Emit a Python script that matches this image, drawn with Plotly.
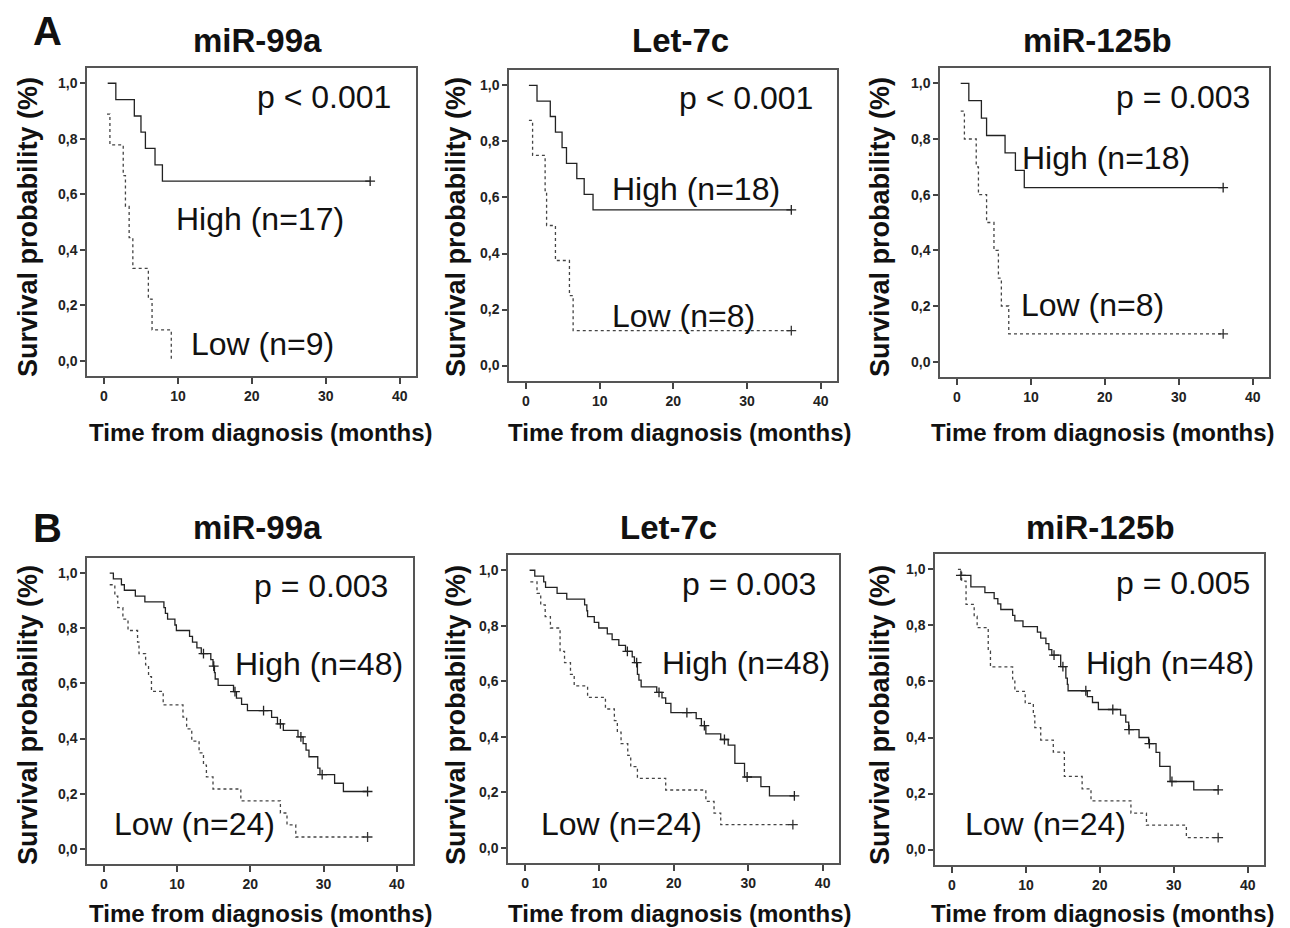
import plotly.graph_objects as go

# ---------------- data ----------------
# Panel A
A1_high_t = [0.5, 1.6, 4.1, 5.0, 5.6, 6.9, 7.9, 36.0]
A1_high_s = [1.0, 0.941, 0.882, 0.824, 0.765, 0.706, 0.647, 0.647]
A1_high_cens = [36.0]
A1_low_t = [0.4, 0.8, 2.6, 2.9, 3.4, 3.9, 6.0, 6.5, 9.1]
A1_low_s = [0.889, 0.778, 0.667, 0.556, 0.444, 0.333, 0.222, 0.111, 0.0]
A1_low_cens = []

A2_high_t = [0.4, 1.5, 3.3, 4.0, 4.9, 5.5, 6.9, 7.9, 9.1, 36.0]
A2_high_s = [1.0, 0.944, 0.889, 0.833, 0.778, 0.722, 0.667, 0.611, 0.556, 0.556]
A2_high_cens = [36.0]
A2_low_t = [0.4, 0.9, 2.6, 2.8, 4.0, 5.9, 6.4, 36.0]
A2_low_s = [0.875, 0.75, 0.625, 0.5, 0.375, 0.25, 0.125, 0.125]
A2_low_cens = [36.0]

A3_high_t = [0.5, 1.6, 3.3, 4.0, 6.5, 7.9, 9.1, 36.0]
A3_high_s = [1.0, 0.9375, 0.875, 0.8125, 0.75, 0.6875, 0.625, 0.625]
A3_high_cens = [36.0]
A3_low_t = [0.5, 1.0, 2.6, 2.9, 4.0, 5.0, 5.6, 6.0, 7.0, 36.0]
A3_low_s = [0.9, 0.8, 0.7, 0.6, 0.5, 0.4, 0.3, 0.2, 0.1, 0.1]
A3_low_cens = [36.0]

# Panel B
B1_high_t = [0.8, 1.3, 2.4, 2.8, 4.3, 5.6, 8.2, 8.4, 8.7, 9.7, 9.9, 11.7, 12.1, 12.7,
             13.3, 14.6, 14.9, 15.1, 15.2, 15.6, 17.7, 18.1, 18.8, 19.6, 22.9, 23.7,
             24.5, 26.5, 27.2, 27.6, 28.0, 29.2, 29.5, 31.5, 32.7, 36.0]
B1_high_s = [1.0, 0.979, 0.958, 0.938, 0.917, 0.896, 0.875, 0.854, 0.833, 0.812, 0.792,
             0.771, 0.75, 0.729, 0.708, 0.686, 0.663, 0.639, 0.616, 0.593, 0.570, 0.547,
             0.524, 0.501, 0.477, 0.453, 0.430, 0.406, 0.382, 0.358, 0.334, 0.293, 0.269,
             0.238, 0.208, 0.208]
B1_high_cens = [13.6, 15.0, 17.9, 21.8, 24.1, 26.9, 29.8, 36.0]
B1_low_t = [0.8, 1.5, 1.9, 2.6, 3.3, 4.6, 4.8, 5.7, 6.1, 6.5, 8.1, 10.8, 11.3, 12.0,
            13.0, 13.6, 14.0, 14.9, 18.7, 24.1, 25.0, 26.2, 36.0]
B1_low_s = [0.958, 0.917, 0.875, 0.833, 0.792, 0.75, 0.708, 0.667, 0.625, 0.571, 0.522,
            0.478, 0.435, 0.391, 0.348, 0.304, 0.261, 0.217, 0.174, 0.13, 0.087, 0.043, 0.043]
B1_low_cens = [36.0]

B2_high_t = [0.6, 1.3, 2.5, 2.75, 4.3, 5.6, 8.0, 8.3, 8.4, 9.3, 9.9, 11.05, 11.7, 12.6,
             13.5, 14.4, 14.7, 15.1, 15.3, 15.6, 17.7, 18.4, 18.9, 19.6, 23.0, 23.7, 24.3,
             26.3, 27.3, 28.2, 29.5, 31.7, 32.85, 36.2]
B2_high_s = [1.0, 0.979, 0.958, 0.938, 0.917, 0.896, 0.875, 0.854, 0.833, 0.812, 0.792,
             0.771, 0.75, 0.729, 0.708, 0.688, 0.667, 0.625, 0.604, 0.58, 0.56, 0.54, 0.52,
             0.487, 0.465, 0.44, 0.41, 0.39, 0.37, 0.304, 0.255, 0.22, 0.187, 0.187]
B2_high_cens = [13.75, 15.0, 18.0, 21.75, 24.1, 26.8, 29.85, 36.2]
B2_low_t = [0.7, 1.6, 2.1, 2.7, 3.4, 4.7, 5.3, 6.1, 6.6, 8.4, 10.8, 12.0, 12.4, 12.9,
            13.8, 14.2, 15.1, 18.9, 24.3, 25.4, 26.3, 36.0]
B2_low_s = [0.958, 0.917, 0.875, 0.833, 0.792, 0.708, 0.667, 0.625, 0.583, 0.542, 0.5,
            0.458, 0.417, 0.375, 0.333, 0.292, 0.25, 0.208, 0.167, 0.125, 0.083, 0.083]
B2_low_cens = [36.0]

B3_high_t = [0.9, 2.55, 4.45, 5.7, 6.2, 6.6, 8.2, 8.5, 9.6, 11.55, 12.0, 12.7, 13.1, 13.5,
             14.7, 15.4, 15.6, 15.7, 18.3, 19.0, 19.8, 22.8, 23.5, 23.9, 25.3, 26.6, 27.6,
             28.1, 29.5, 32.7, 36.0]
B3_high_s = [0.979, 0.938, 0.917, 0.896, 0.877, 0.857, 0.836, 0.816, 0.796, 0.776, 0.755,
             0.735, 0.714, 0.694, 0.653, 0.612, 0.59, 0.567, 0.546, 0.525, 0.5, 0.48, 0.455,
             0.428, 0.40, 0.378, 0.347, 0.297, 0.243, 0.213, 0.213]
B3_high_cens = [1.2, 13.8, 15.0, 18.1, 21.75, 23.95, 26.7, 29.75, 36.0]
B3_low_t = [0.8, 1.3, 1.9, 3.0, 3.4, 4.9, 5.2, 8.2, 8.5, 9.9, 11.0, 11.2, 12.0, 13.7, 15.2,
            17.6, 18.8, 24.2, 26.3, 31.7, 36.0]
B3_low_s = [1.0, 0.958, 0.875, 0.833, 0.792, 0.708, 0.652, 0.609, 0.565, 0.522, 0.478,
            0.435, 0.391, 0.348, 0.261, 0.217, 0.174, 0.13, 0.087, 0.043, 0.043]
B3_low_cens = [36.0]

panel_titles = ["miR-99a", "Let-7c", "miR-125b", "miR-99a", "Let-7c", "miR-125b"]
p_texts = ["p < 0.001", "p < 0.001", "p = 0.003", "p = 0.003", "p = 0.003", "p = 0.005"]
high_labels = ["High (n=17)", "High (n=18)", "High (n=18)", "High (n=48)", "High (n=48)", "High (n=48)"]
low_labels = ["Low (n=9)", "Low (n=8)", "Low (n=8)", "Low (n=24)", "Low (n=24)", "Low (n=24)"]
y_tickvals = [0.0, 0.2, 0.4, 0.6, 0.8, 1.0]
y_ticktext = ["0,0", "0,2", "0,4", "0,6", "0,8", "1,0"]
x_tickvals = [0, 10, 20, 30, 40]
x_ticktext = ["0", "10", "20", "30", "40"]
y_title = "Survival probability (%)"
x_title = "Time from diagnosis (months)"
panel_letters = ["A", "B"]

# ---------------- layout helpers ----------------
# The page body has an 8px default margin, so the figure is sized to fill the
# window from (8, 8) to (1290, 928); reference pixel positions are shifted by 8.
OFF = 8
FW, FH = 1290 - OFF, 928 - OFF
FONT = "Liberation Sans, Arial, sans-serif"

def px2x(px):
    return (px - OFF) / FW

def px2y(py):
    return 1 - (py - OFF) / FH

# plot boxes in reference pixels: (left, right, top, bottom)
boxes = [(87, 416, 68, 376), (509, 837, 70, 381), (940, 1269, 68, 377),
         (87, 413, 558, 864), (508, 839, 555, 863), (935, 1264, 554, 865)]
title_pos = [(257, 40), (680, 40), (1097, 40), (257, 527), (668, 527), (1100, 527)]
ytitle_pos = [(28, 227), (456, 227), (880, 227), (28, 715), (456, 715), (880, 715)]
xtitle_pos = [(261, 433), (680, 433), (1103, 433), (261, 913), (680, 913), (1103, 913)]
letter_pos = [(47, 31), (47, 528)]
# in-plot label positions (data coords)
p_pos = [(29.7, 0.95), (29.8, 0.955), (30.6, 0.95), (29.7, 0.955), (30.1, 0.95), (31.2, 0.95)]
high_pos = [(21.1, 0.51), (23.1, 0.63), (20.1, 0.73), (29.3, 0.67), (29.7, 0.665), (29.5, 0.665)]
low_pos = [(21.5, 0.06), (21.35, 0.178), (18.3, 0.205), (12.4, 0.09), (13.0, 0.085), (12.7, 0.09)]

curves = [
    (A1_high_t, A1_high_s, A1_high_cens, A1_low_t, A1_low_s, A1_low_cens),
    (A2_high_t, A2_high_s, A2_high_cens, A2_low_t, A2_low_s, A2_low_cens),
    (A3_high_t, A3_high_s, A3_high_cens, A3_low_t, A3_low_s, A3_low_cens),
    (B1_high_t, B1_high_s, B1_high_cens, B1_low_t, B1_low_s, B1_low_cens),
    (B2_high_t, B2_high_s, B2_high_cens, B2_low_t, B2_low_s, B2_low_cens),
    (B3_high_t, B3_high_s, B3_high_cens, B3_low_t, B3_low_s, B3_low_cens),
]

def step_value(ts, ss, c):
    v = ss[0]
    for t, s in zip(ts, ss):
        if t <= c + 1e-9:
            v = s
    return v

fig = go.Figure()
layout = dict(
    width=FW, height=FH, margin=dict(l=0, r=0, t=0, b=0),
    paper_bgcolor="white", plot_bgcolor="white", showlegend=False,
    font=dict(family=FONT, color="#111"),
)
annotations = []

for i, (ht, hs, hc, lt, ls, lc) in enumerate(curves):
    k = i + 1
    xa = "x" if k == 1 else f"x{k}"
    ya = "y" if k == 1 else f"y{k}"
    left, right, top, bottom = boxes[i]
    layout["xaxis" if k == 1 else f"xaxis{k}"] = dict(
        domain=[px2x(left), px2x(right)], anchor=ya, range=[-2.3, 42.2],
        tickvals=x_tickvals, ticktext=x_ticktext, ticks="outside", ticklen=6,
        tickwidth=1.5, tickcolor="#444", showline=True, mirror=True,
        linecolor="#555", linewidth=1.5, showgrid=False, zeroline=False,
        tickfont=dict(family=FONT, size=14, color="#222", weight="bold"),
        fixedrange=True,
    )
    layout["yaxis" if k == 1 else f"yaxis{k}"] = dict(
        domain=[px2y(bottom), px2y(top)], anchor=xa, range=[-0.055, 1.055],
        tickvals=y_tickvals, ticktext=y_ticktext, ticks="outside", ticklen=5,
        tickwidth=1.5, tickcolor="#444", showline=True, mirror=True,
        linecolor="#555", linewidth=1.5, showgrid=False, zeroline=False,
        tickfont=dict(family=FONT, size=14, color="#222", weight="bold"),
        fixedrange=True,
    )
    # high (solid)
    fig.add_trace(go.Scatter(x=ht, y=hs, mode="lines", line=dict(color="#222", width=1.3, shape="hv"),
                             xaxis=xa, yaxis=ya, hoverinfo="skip"))
    # low (dashed)
    fig.add_trace(go.Scatter(x=lt, y=ls, mode="lines",
                             line=dict(color="#444", width=1.3, shape="hv", dash="3px,3px"),
                             xaxis=xa, yaxis=ya, hoverinfo="skip"))
    # censor marks
    if hc:
        fig.add_trace(go.Scatter(x=hc, y=[step_value(ht, hs, c) for c in hc], mode="markers",
                                 marker=dict(symbol="cross-thin", size=7, line=dict(color="#222", width=1.3)),
                                 xaxis=xa, yaxis=ya, hoverinfo="skip"))
    if lc:
        fig.add_trace(go.Scatter(x=lc, y=[step_value(lt, ls, c) for c in lc], mode="markers",
                                 marker=dict(symbol="cross-thin", size=7, line=dict(color="#333", width=1.3)),
                                 xaxis=xa, yaxis=ya, hoverinfo="skip"))

    # panel title
    tx, ty = title_pos[i]
    annotations.append(dict(text=panel_titles[i], x=px2x(tx), y=px2y(ty), xref="paper", yref="paper",
                            showarrow=False, xanchor="center", yanchor="middle",
                            font=dict(family=FONT, size=33, color="#111", weight="bold")))
    # y title
    yx, yy = ytitle_pos[i]
    annotations.append(dict(text=y_title, x=px2x(yx), y=px2y(yy), xref="paper", yref="paper",
                            showarrow=False, xanchor="center", yanchor="middle", textangle=-90,
                            font=dict(family=FONT, size=27, color="#111", weight="bold")))
    # x title
    xx, xy = xtitle_pos[i]
    annotations.append(dict(text=x_title, x=px2x(xx), y=px2y(xy), xref="paper", yref="paper",
                            showarrow=False, xanchor="center", yanchor="middle",
                            font=dict(family=FONT, size=24, color="#111", weight="bold")))
    # p value, high/low labels
    for txt, (ax_, ay_) in ((p_texts[i], p_pos[i]), (high_labels[i], high_pos[i]), (low_labels[i], low_pos[i])):
        annotations.append(dict(text=txt, x=ax_, y=ay_, xref=xa, yref=ya, showarrow=False,
                                xanchor="center", yanchor="middle",
                                font=dict(family=FONT, size=32, color="#111")))

for letter, (lx, ly) in zip(panel_letters, letter_pos):
    annotations.append(dict(text=letter, x=px2x(lx), y=px2y(ly), xref="paper", yref="paper",
                            showarrow=False, xanchor="center", yanchor="middle",
                            font=dict(family=FONT, size=40, color="#111", weight="bold")))

layout["annotations"] = annotations
fig.update_layout(**layout)
fig.write_html("out.html")
